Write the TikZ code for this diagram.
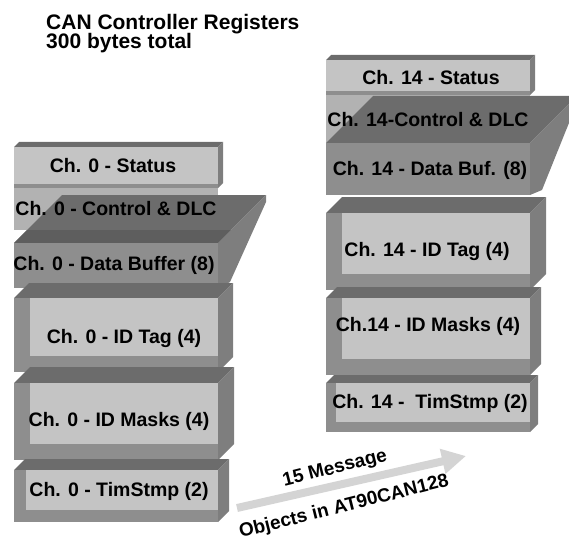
\documentclass[tikz,border=0pt]{standalone}
\usepackage{fontspec}
\setmainfont{Liberation Sans}
\usetikzlibrary{arrows.meta}
\definecolor{RegLight}{HTML}{C4C4C4}
\definecolor{RegCtrl}{HTML}{B2B2B2}
\definecolor{RegMid}{HTML}{8E8E8E}
\definecolor{RegTop}{HTML}{6C6C6C}
\definecolor{RegBand}{HTML}{5E5E5E}
\definecolor{RegSide}{HTML}{7E7E7E}
\definecolor{RegArrow}{HTML}{D4D4D4}
\tikzset{
  topface/.style={fill=RegTop},
  sideface/.style={fill=RegSide},
  frameface/.style={fill=RegMid},
  lightface/.style={fill=RegLight},
  reglabel/.style={font=\fontsize{19.5}{21}\selectfont\bfseries, inner sep=0pt},
  titlelabel/.style={font=\fontsize{21}{23}\selectfont\bfseries, inner sep=0pt, anchor=base west},
  arrowlabel/.style={font=\fontsize{19}{21}\selectfont\bfseries, inner sep=0pt, rotate=14}
}

\begin{document}
\begin{tikzpicture}[x=1pt,y=-1pt]
	\useasboundingbox (0,0) rectangle (569,540);
	\clip (0,0) rectangle (569,540);
	
	% title
	\node[titlelabel] (title1) at (46,30) {CAN Controller Registers};
	\node[titlelabel] (title2) at (46,49) {300 bytes total};
	
	% ---- channel 0 ----
	% status
	\fill[topface] (14,147) -- (218,147) -- (223,142) -- (19,142) -- cycle;
	\fill[sideface] (218,147) -- (223,142) -- (223,183) -- (218,188) -- cycle;
	\fill[lightface] (14,147) rectangle (218,188);
	\fill[frameface] (14,184) rectangle (218,188);
	% control & dlc
	\fill[RegCtrl] (14,188) rectangle (218,230);
	% data buffer (deep top face)
	\fill[topface] (14,243) -- (218,243) -- (266,195) -- (62,195) -- cycle;
	\fill[RegBand] (14,243) -- (218,243) -- (231,230) -- (27,230) -- cycle;
	\fill[sideface] (218,243) -- (266,195) -- (266,202) -- (230,282) -- (218,288) -- cycle;
	\fill[frameface] (14,243) rectangle (218,288);
	% id tag, id masks, timestamp
	\foreach \ya/\yb/\d/\b in {298/372/15/16, 383/460/16/16, 470/522/11/12}{
		\fill[topface] (14,\ya) -- (218,\ya) -- (218+\d,\ya-\d) -- (14+\d,\ya-\d) -- cycle;
		\fill[sideface] (218,\ya) -- (218+\d,\ya-\d) -- (218+\d,\yb-\d) -- (218,\yb) -- cycle;
		\fill[frameface] (14,\ya) rectangle (218,\yb);
		\fill[lightface] (14+\b,\ya) rectangle (218,\yb-\b);
	}
	\node[reglabel] (stat0) at (113,166) {Ch. 0 - Status};
	\node[reglabel] (ctrl0) at (116,209) {Ch. 0 - Control \& DLC};
	\node[reglabel] (data0) at (114,265) {Ch. 0 - Data Buffer (8)};
	\node[reglabel] (tag0) at (124,338) {Ch. 0 - ID Tag (4)};
	\node[reglabel] (mask0) at (119,421) {Ch. 0 - ID Masks (4)};
	\node[reglabel] (time0) at (119,491) {Ch. 0 - TimStmp (2)};
	
	% ---- channel 14 ----
	% status
	\fill[topface] (326,60) -- (530,60) -- (535,55) -- (331,55) -- cycle;
	\fill[sideface] (530,60) -- (535,55) -- (535,90) -- (530,95) -- cycle;
	\fill[lightface] (326,60) rectangle (530,95);
	\fill[frameface] (326,91) rectangle (530,95);
	% control & dlc
	\fill[RegCtrl] (326,95) rectangle (530,143);
	% data buffer (deep top face)
	\fill[topface] (326,143) -- (530,143) -- (577,96) -- (373,96) -- cycle;
	\fill[sideface] (530,143) -- (577,96) -- (577,103) -- (542,190) -- (530,195) -- cycle;
	\fill[frameface] (326,143) rectangle (530,195);
	% id tag, id masks, timestamp
	\foreach \ya/\yb/\d/\b in {213/290/16/16, 298/375/11/16, 383/432/8/10}{
		\fill[topface] (326,\ya) -- (530,\ya) -- (530+\d,\ya-\d) -- (326+\d,\ya-\d) -- cycle;
		\fill[sideface] (530,\ya) -- (530+\d,\ya-\d) -- (530+\d,\yb-\d) -- (530,\yb) -- cycle;
		\fill[frameface] (326,\ya) rectangle (530,\yb);
		\fill[lightface] (326+\b,\ya) rectangle (530,\yb-\b);
	}
	\node[reglabel] (stat14) at (431,78) {Ch. 14 - Status};
	\node[reglabel] (ctrl14) at (428,120) {Ch. 14-Control \& DLC};
	\node[reglabel] (data14) at (430,170) {Ch. 14 - Data Buf. (8)};
	\node[reglabel] (tag14) at (427,251) {Ch. 14 - ID Tag (4)};
	\node[reglabel] (mask14) at (428,326) {Ch.14 - ID Masks (4)};
	\node[reglabel] (time14) at (430,403) {Ch. 14 -\ \ TimStmp (2)};
	
	% arrow between the two stacks
	\coordinate (atail) at (237,508);
	\coordinate (ahead) at (466,456);
	\draw[RegArrow, line width=8pt, -{Triangle[length=24pt,width=24pt]}] (atail) -- (ahead);
	\node[arrowlabel] (msg) at (335,469) {15 Message};
	\node[arrowlabel] (obj) at (344,507) {Objects in AT90CAN128};
\end{tikzpicture}
\end{document}
